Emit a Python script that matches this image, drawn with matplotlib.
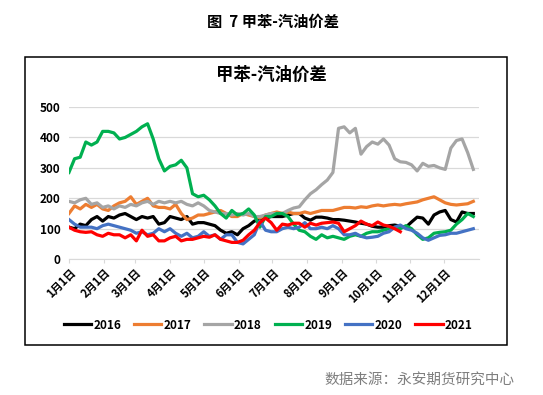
import matplotlib
matplotlib.use("Agg")
import matplotlib.pyplot as plt
from matplotlib.patches import Rectangle

plt.rcParams['font.family'] = ['Noto Sans CJK SC', 'DejaVu Sans']

# day of year for every value (one point each 5 days)
days = list(range(0, 361, 5))

y2016 = [105, 100, 115, 110, 130, 140, 125, 140, 135, 145, 150, 140, 130, 140, 135, 140,
         115, 120, 140, 135, 130, 140, 115, 120, 120, 115, 110, 95, 85, 90, 80, 100,
         110, 125, 130, 135, 140, 140, 140, 145, 150, 150, 135, 128, 138, 138, 135, 130,
         130, 128, 125, 122, 118, 115, 108, 105, 105, 110, 112, 108, 105, 122, 138, 135,
         115, 145, 155, 160, 130, 122, 155, 150, 150]
y2017 = [150, 175, 165, 180, 170, 180, 165, 160, 175, 185, 190, 205, 180, 190, 200, 175,
         170, 170, 165, 180, 150, 130, 135, 145, 145, 150, 155, 160, 150, 140, 140, 150,
         145, 140, 135, 145, 150, 155, 150, 155, 150, 150, 155, 150, 155, 160, 160, 160,
         165, 170, 170, 168, 172, 170, 175, 178, 175, 178, 180, 178, 182, 185, 188, 195,
         200, 205, 195, 185, 180, 178, 180, 182, 190]
y2018 = [190, 185, 195, 200, 180, 185, 170, 175, 165, 175, 170, 180, 175, 185, 190, 180,
         190, 185, 190, 185, 190, 180, 175, 185, 175, 160, 155, 150, 150, 145, 150, 145,
         150, 140, 140, 145, 150, 150, 150, 160, 168, 172, 195, 215, 228, 245, 260, 285,
         430, 435, 415, 430, 345, 370, 385, 378, 395, 375, 330, 320, 318, 310, 290, 315,
         305, 308, 300, 295, 365, 390, 395, 350, 295]
y2019 = [285, 330, 335, 385, 375, 385, 420, 420, 415, 395, 400, 410, 420, 435, 445, 395,
         330, 290, 305, 310, 325, 300, 215, 205, 210, 195, 175, 150, 135, 160, 145, 150,
         165, 145, 105, 140, 140, 150, 150, 140, 115, 95, 90, 75, 65, 80, 70, 75,
         70, 65, 75, 80, 75, 85, 90, 90, 95, 100, 105, 100, 110, 100, 80, 65,
         70, 85, 88, 90, 95, 115, 130, 150, 140]
y2020 = [130, 115, 105, 105, 105, 100, 110, 115, 110, 105, 100, 95, 85, 90, 80, 85,
         100, 90, 100, 85, 75, 85, 70, 75, 90, 75, 80, 65, 80, 80, 55, 50,
         65, 80, 125, 95, 90, 90, 100, 105, 100, 105, 120, 100, 100, 105, 100, 110,
         100, 80, 80, 85, 75, 70, 72, 75, 85, 90, 105, 112, 100, 95, 85, 70,
         62, 70, 78, 80, 85, 85, 90, 95, 100]
y2021 = [105, 95, 90, 88, 90, 80, 75, 85, 80, 80, 70, 80, 60, 95, 75, 80,
         60, 60, 70, 75, 60, 65, 65, 70, 75, 72, 80, 65, 60, 55, 55, 62,
         80, 95, 120, 135, 120, 95, 115, 112, 118, 118, 105, 118, 112, 118, 120, 122,
         118, 90, 100, 110, 125, 115, 110, 122, 112, 108, 100, 90]

series = [('2016', y2016, '#000000'), ('2017', y2017, '#ED7D31'),
          ('2018', y2018, '#A5A5A5'), ('2019', y2019, '#00B050'),
          ('2020', y2020, '#4472C4'), ('2021', y2021, '#FF0000')]

month_days = [0, 31, 59, 90, 120, 151, 181, 212, 243, 273, 304, 334]
month_labels = ['%d月1日' % m for m in range(1, 13)]

fig = plt.figure(figsize=(5.43, 3.95), dpi=100)
ax = fig.add_axes([0.127, 0.344, 0.755, 0.385])

for name, vals, col in series:
    ax.plot(days[:len(vals)], vals, color=col, lw=2.3, label=name)

ax.set_xlim(0, 365)
ax.set_ylim(0, 500)
ax.set_yticks(range(0, 501, 100))
ax.set_yticklabels([str(v) for v in range(0, 501, 100)], fontsize=8.5, fontweight='bold')
ax.set_xticks(month_days)
ax.set_xticklabels(month_labels, rotation=45, ha='right', rotation_mode='anchor',
                   fontsize=8, fontweight='bold')
ax.grid(axis='y', color='#D9D9D9', lw=0.9)
ax.set_axisbelow(True)
for s in ['top', 'right', 'left']:
    ax.spines[s].set_visible(False)
ax.spines['bottom'].set_color('#D9D9D9')
ax.tick_params(axis='y', length=0, pad=6)
ax.tick_params(axis='x', length=3, color='#D9D9D9', pad=2)

fig.text(0.502, 0.944, '图  7 甲苯-汽油价差', ha='center', va='center', fontsize=11, fontweight='bold')
fig.text(0.50, 0.81, '甲苯-汽油价差', ha='center', va='center', fontsize=12.5, fontweight='bold')
fig.text(0.947, 0.038, '数据来源：永安期货研究中心', ha='right', va='center', fontsize=10.5, color='#7F7F7F')

fig.patches.append(Rectangle((0.046, 0.127), 0.888, 0.729, transform=fig.transFigure,
                             fill=False, edgecolor='black', lw=1.1))

fig.legend(loc='center', bbox_to_anchor=(0.494, 0.177), ncol=6, frameon=False,
           handlelength=2.3, handletextpad=0.2, columnspacing=1.1,
           prop={'size': 8.5, 'weight': 'bold'})

fig.savefig('out.png', dpi=100)
